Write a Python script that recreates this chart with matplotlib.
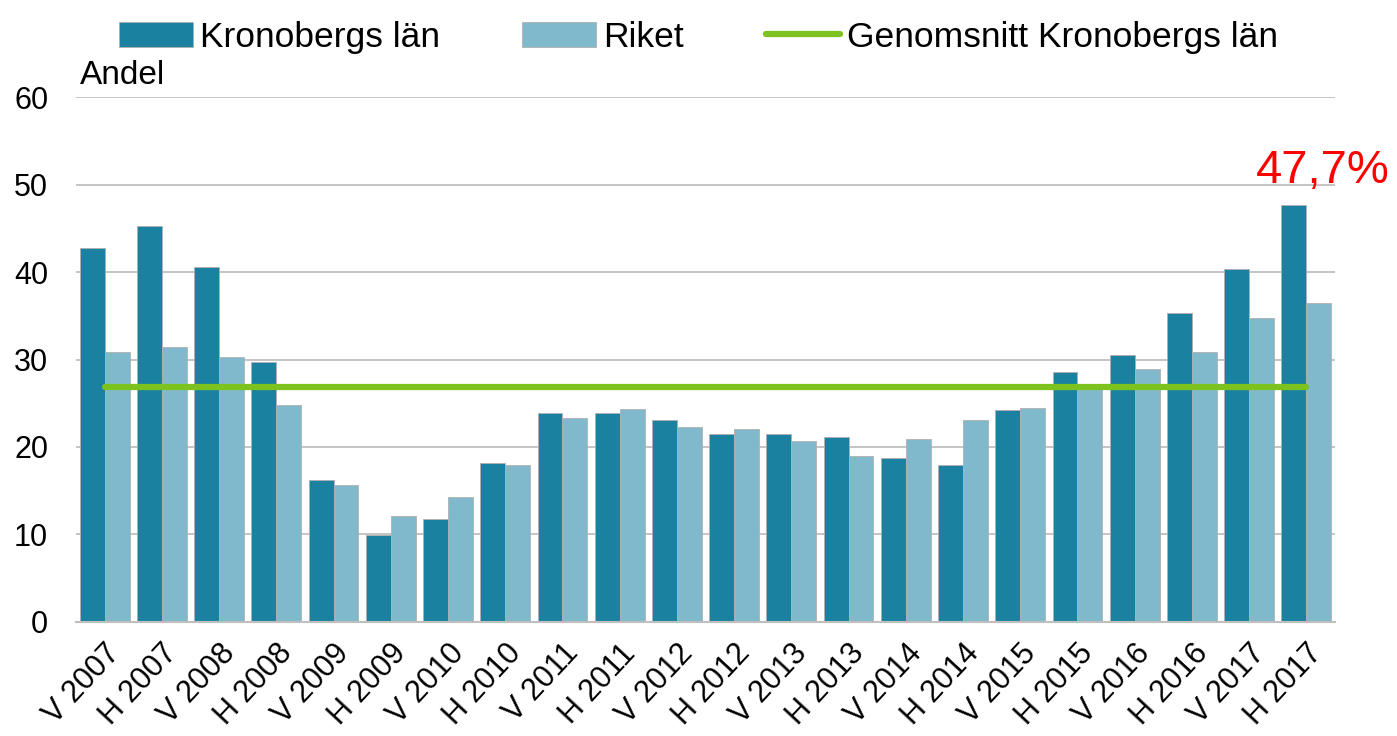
import numpy as np
import matplotlib
matplotlib.use("Agg")
import matplotlib.pyplot as plt
from matplotlib.lines import Line2D

plt.rcParams['font.family'] = ['Liberation Sans', 'DejaVu Sans']

# ==================================================
# Data
# ==================================================
periods = ['V 2007', 'H 2007', 'V 2008', 'H 2008', 'V 2009', 'H 2009',
           'V 2010', 'H 2010', 'V 2011', 'H 2011', 'V 2012', 'H 2012',
           'V 2013', 'H 2013', 'V 2014', 'H 2014', 'V 2015', 'H 2015',
           'V 2016', 'H 2016', 'V 2017', 'H 2017']
kronoberg = [42.7, 45.3, 40.6, 29.7, 16.2, 9.9, 11.8, 18.2, 23.9, 23.9, 23.1,
             21.5, 21.5, 21.1, 18.7, 17.9, 24.2, 28.6, 30.5, 35.3, 40.3, 47.7]
riket = [30.9, 31.4, 30.3, 24.8, 15.7, 12.1, 14.3, 17.9, 23.3, 24.3, 22.3,
         22.1, 20.7, 19.0, 20.9, 23.1, 24.5, 27.0, 28.9, 30.9, 34.7, 36.5]
average_kronoberg = 26.9
highlight_label = '47,7%'

dark = '#1a82a0'
light = '#80b9cb'
green = '#7dc21e'

# ==================================================
# Plot
# ==================================================
fig = plt.figure(figsize=(13.97, 7.36), dpi=100)
ax = fig.add_axes([0.0544, 0.155, 0.9012, 0.713])

x = np.arange(len(periods))
w = 0.435
ax.bar(x - w / 2, kronoberg, w, color=dark, edgecolor='#b0b0b0', linewidth=0.6, zorder=2)
ax.bar(x + w / 2, riket, w, color=light, edgecolor='#b0b0b0', linewidth=0.6, zorder=2)
ax.plot([x[0], x[-1]], [average_kronoberg, average_kronoberg], color=green,
        linewidth=4.5, solid_capstyle='round', zorder=3)

ax.set_xlim(-0.5, len(periods) - 0.5)
ax.set_ylim(0, 60)
ax.set_yticks(range(0, 61, 10))
ax.yaxis.grid(True, color='#bfbfbf', linewidth=1.3, zorder=0)
ax.set_axisbelow(True)
for s in ['top', 'right', 'left']:
    ax.spines[s].set_visible(False)
ax.spines['bottom'].set_color('#bfbfbf')
ax.spines['bottom'].set_linewidth(1.5)
ax.tick_params(axis='y', length=0, pad=20, labelsize=22)
ax.tick_params(axis='x', length=0, pad=12, labelsize=22)
ax.set_xticks(x)
ax.set_xticklabels(periods, rotation=47, ha='right', rotation_mode='anchor')
for lbl in ax.get_xticklabels():
    lbl.set_x(lbl.get_position()[0] + 0.15)

ax.text(0.003, 1.012, 'Andel', transform=ax.transAxes, fontsize=24, va='bottom', ha='left')
ax.text(x[-1] + 0.28, kronoberg[-1] + 2.5, highlight_label, color='red', fontsize=34,
        ha='center', va='baseline')

handles = [plt.Rectangle((0, 0), 1, 1, facecolor=dark, edgecolor='#b0b0b0', linewidth=0.6),
           plt.Rectangle((0, 0), 1, 1, facecolor=light, edgecolor='#b0b0b0', linewidth=0.6),
           Line2D([0], [0], color=green, linewidth=4.5, solid_capstyle='round')]
fig.legend(handles, ['Kronobergs län', 'Riket', 'Genomsnitt Kronobergs län'],
           loc='upper center', bbox_to_anchor=(0.5, 1.015), ncol=3, frameon=False,
           fontsize=25.5, handlelength=2.1, handletextpad=0.2, columnspacing=2.3)

fig.savefig('out.png', dpi=100)
